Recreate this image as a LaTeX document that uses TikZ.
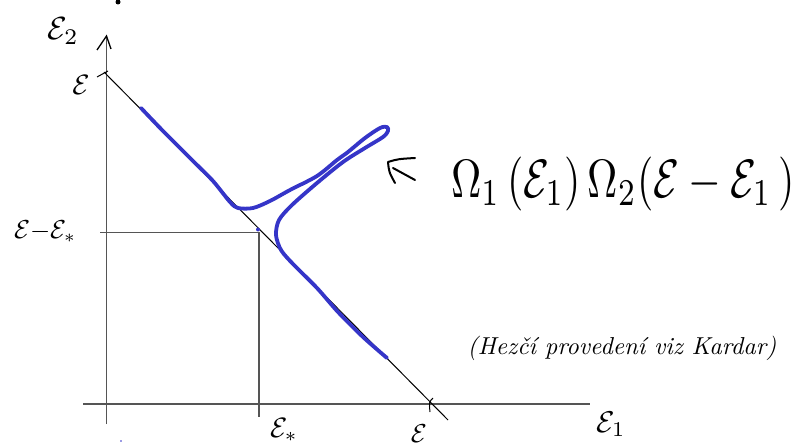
\documentclass[tikz,border=0pt]{standalone}
\usepackage{graphicx}
\definecolor{penblue}{HTML}{3535C8}
\definecolor{axisgray}{HTML}{555555}
\begin{document}
\begin{tikzpicture}[x=1pt,y=-1pt,
  axis/.style={draw=axisgray, line width=1.8pt},
  thinline/.style={draw=black, line width=1pt},
  pen/.style={draw=penblue, line width=3.8pt, line cap=round, line join=round},
  lab/.style={inner sep=0pt, text=black},
  ink/.style={draw=black, line width=2pt, line cap=round, line join=round}]
\useasboundingbox (0,0) rectangle (805,446);

% axes
\coordinate (yb) at (106.5,424);
\coordinate (yt) at (106.5,36);
\coordinate (xl) at (83,404);
\coordinate (xr) at (590,404);
\coordinate (ya1) at (97,50);
\coordinate (ya2) at (111,49);
\draw[axis] (yb) -- (yt);
\draw[thinline, line width=1.3pt] (ya1) -- (yt) -- (ya2);
\draw[axis] (xl) -- (xr);

% diagonal E1+E2=E
\coordinate (d0) at (104,72);
\coordinate (d1) at (448,420);
\draw[thinline] (d0) -- (d1);
\coordinate (t0) at (97,77);
\coordinate (t1) at (108,71);
\draw[thinline] (t0) -- (t1);
\coordinate (t2) at (433,398);
\coordinate (t3) at (430,412);
\draw[thinline] (t2) .. controls (429,402) .. (t3);

% E_* lines
\coordinate (hl) at (100,232.5);
\coordinate (corner) at (259,232.5);
\coordinate (vb) at (259,417);
\draw[axis, line width=1.5pt] (hl) -- (corner) -- (vb);

% blue curve
\draw[pen] plot[smooth, tension=0.5] coordinates {
 (141,108) (163,131) (193,161) (213,181) (230,202) (238,208) (253,208)
 (270,201) (290,190) (317,176) (337,160) (348,152) (365,138) (380,128)
 (387,127) (388,131) (383,137) (365,148) (343,162) (317,183) (292,205)
 (279,220) (276,235) (281,250) (293,264) (317,288) (338,312) (363,337) (387,358)};
\fill[penblue] (258,229.5) circle (2pt);
\fill[penblue] (121,441) circle (0.9pt);
\fill[black] (118,2) circle (2.5pt);

% arrow mark
\coordinate (a0) at (395,183);
\coordinate (a1) at (388,162);
\coordinate (a2) at (415,158);
\coordinate (a3) at (393,168);
\coordinate (a4) at (415,180);
\draw[ink] (a0) .. controls (389,172) .. (a1) .. controls (398,159) .. (a2);
\draw[ink] (a3) -- (a4);

% labels
\node[lab] (lE2) at (63,31) {\scalebox{3.2}{$\mathcal{E}_2$}};
\node[lab] (lEy) at (81,85) {\scalebox{2.8}{$\mathcal{E}$}};
\node[lab] (lEmE) at (45,232) {\scalebox{2.6}{$\mathcal{E}{-}\mathcal{E}_*$}};
\node[lab] (lEs) at (284,430) {\scalebox{2.8}{$\mathcal{E}_*$}};
\node[lab] (lEx) at (419,434) {\scalebox{2.6}{$\mathcal{E}$}};
\node[lab] (lE1) at (611,424) {\scalebox{3}{$\mathcal{E}_1$}};
\node[lab] (lOmega) at (623,184) {\scalebox{4.2}[5.4]{$\Omega_1\,(\mathcal{E}_1)\,\Omega_2(\mathcal{E}-\mathcal{E}_1\,)$}};
\node[lab] (lnote) at (622,348) {\scalebox{2.45}{\itshape (Hezčí provedení viz Kardar)}};
\end{tikzpicture}
\end{document}
